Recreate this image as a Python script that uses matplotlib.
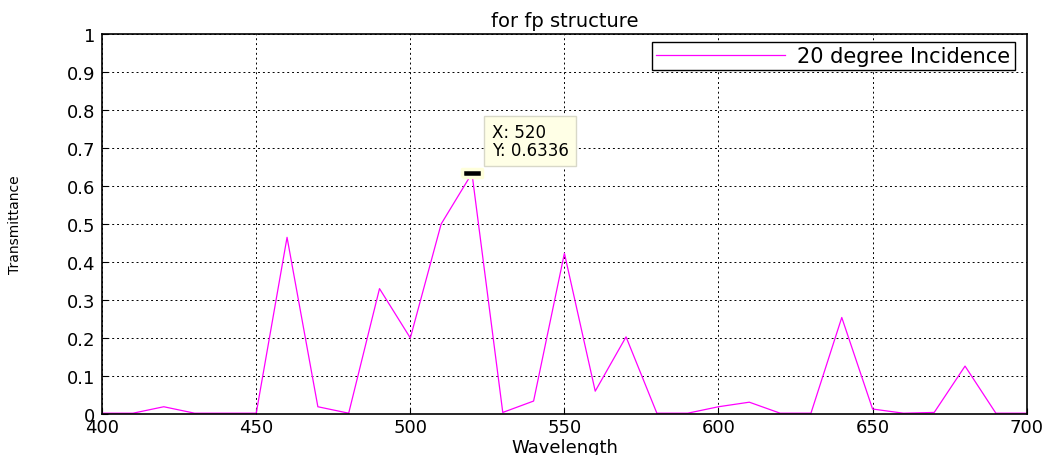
import numpy as np
import matplotlib.pyplot as plt
from matplotlib.path import Path

plt.rcParams['font.family'] = ['DejaVu Sans']

# Données
wavelength = np.arange(400, 701, 10)
transmittance = [0.002, 0.002, 0.019, 0.002, 0.002, 0.002, 0.465, 0.019, 0.002, 0.33,
                 0.2, 0.5, 0.6336, 0.004, 0.034, 0.423, 0.06, 0.203, 0.002, 0.002,
                 0.019, 0.031, 0.002, 0.002, 0.254, 0.013, 0.002, 0.004, 0.126, 0.002,
                 0.002]
tip_x, tip_y = 520, 0.6336

fig = plt.figure(figsize=(10.53, 4.56), dpi=100)
ax = fig.add_axes([0.097, 0.09, 0.878, 0.833])

ax.plot(wavelength, transmittance, color='#ff00ff', lw=0.9, label='20 degree Incidence')

# data tip (rectangle noir façon matlab)
rect = Path([(-1, -0.42), (1, -0.42), (1, 0.42), (-1, 0.42), (-1, -0.42)])
ax.plot(tip_x, tip_y, marker=rect, ms=14, mfc='black', mec='#ffffdc', mew=2.5,
        zorder=5)
ax.annotate('X: 520\nY: 0.6336', xy=(tip_x, tip_y), xytext=(526.5, 0.672),
            fontsize=12, va='bottom', ha='left', linespacing=0.95,
            bbox=dict(boxstyle='square,pad=0.45', fc='#ffffe6', ec='#d8d8c8'))

ax.set_xlim(400, 700)
ax.set_ylim(0, 1)
ax.set_xticks(np.arange(400, 701, 50))
ax.set_yticks(np.arange(0, 1.01, 0.1))
ax.set_yticklabels(['0', '0.1', '0.2', '0.3', '0.4', '0.5', '0.6', '0.7', '0.8', '0.9', '1'])
ax.tick_params(axis='both', labelsize=13, direction='in', length=4)
ax.tick_params(axis='y', pad=5)
ax.tick_params(axis='x', pad=3)
ax.grid(True, color='black', linestyle=(0, (2, 3)), lw=0.7)
for s in ax.spines.values():
    s.set_linewidth(1.2)

ax.set_title('for fp structure', fontsize=14, pad=6)
ax.set_xlabel('Wavelength', fontsize=13, labelpad=1)
ax.set_ylabel('Transmittance', fontsize=10, labelpad=32)

leg = ax.legend(loc='upper right', fontsize=15, fancybox=False, framealpha=1,
                edgecolor='black', handlelength=6.2, borderpad=0.2,
                handletextpad=0.6, borderaxespad=0,
                bbox_to_anchor=(0.987, 0.979))
leg.get_frame().set_linewidth(1.0)

fig.savefig('out.png', dpi=100)
